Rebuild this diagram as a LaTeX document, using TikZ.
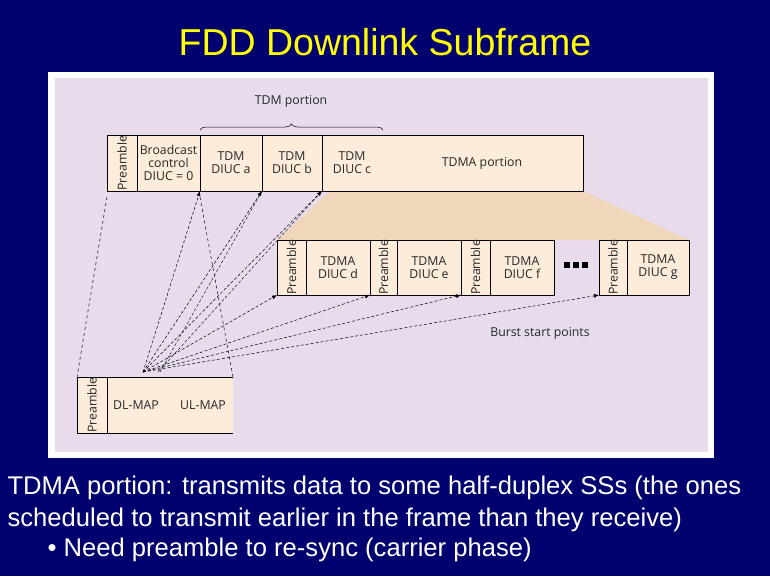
\documentclass[tikz,border=0pt]{standalone}
\usepackage{fontspec}
\setmainfont{Liberation Sans}
\newfontfamily\dfont{Open Sans}
\usetikzlibrary{decorations.pathreplacing,arrows.meta}
\definecolor{navy}{RGB}{0,0,110}
\definecolor{lav}{RGB}{232,220,236}
\definecolor{cell}{RGB}{253,236,218}
\definecolor{fan}{RGB}{240,214,186}
\definecolor{ttl}{RGB}{255,255,0}
\tikzset{
 cellbox/.style={draw=black,line width=0.6pt,fill=cell},
 lbl/.style={font=\dfont\fontsize{12.3}{13}\selectfont,text=black!85,align=center},
 vlbl/.style={lbl,rotate=90},
 ptr/.style={densely dashed,line width=0.5pt,-{Latex[length=5pt,width=4pt]}},
 dline/.style={dashed,line width=0.5pt},
 body/.style={font=\fontsize{25.6}{28}\selectfont,text=white,anchor=west}
}
\begin{document}
\begin{tikzpicture}[x=1pt,y=-1pt]
\useasboundingbox (0,0) rectangle (770,576);
\fill[navy] (0,0) rectangle (770,576);
\node[font=\fontsize{37.5}{40}\selectfont,text=ttl] (title) at (385,42) {FDD Downlink Subframe};
\fill[white] (48,72) rectangle (714,458);
\fill[lav] (55,78) rectangle (708,452);
% fan
\fill[fan] (330,191) -- (583,191) -- (689,240) -- (277,240) -- cycle;
% top row
\draw[cellbox] (107,135) rectangle (583,191);
\foreach \x in {137,200,262,322} \draw (\x,135) -- (\x,191);
\node[vlbl] (p0) at (122,163) {Preamble};
\node[lbl] (bc) at (168.5,163) {Broadcast\\control\\DIUC = 0};
\node[lbl] (ta) at (231,163) {TDM\\DIUC a};
\node[lbl] (tb) at (292,163) {TDM\\DIUC b};
\node[lbl] (tc) at (352,163) {TDM\\DIUC c};
\node[lbl] (tdma) at (482,163) {TDMA portion};
\draw[decorate,decoration={brace,amplitude=6pt},line width=0.5pt] (200,130) -- (383,130);
\node[lbl] (tdm) at (291,101) {TDM portion};
% second row
\draw[cellbox] (277,240) rectangle (554,295);
\draw[cellbox] (599,240) rectangle (689,295);
\foreach \x in {306,370,397,461,490,627} \draw (\x,240) -- (\x,295);
\node[vlbl] (p1) at (291.5,267.5) {Preamble};
\node[lbl] (dd) at (338,267.5) {TDMA\\DIUC d};
\node[vlbl] (p2) at (383.5,267.5) {Preamble};
\node[lbl] (de) at (429,267.5) {TDMA\\DIUC e};
\node[vlbl] (p3) at (475.5,267.5) {Preamble};
\node[lbl] (df) at (522,267.5) {TDMA\\DIUC f};
\foreach \x in {564,573,582} \fill[black] (\x,262) rectangle +(6,6);
\node[vlbl] (p4) at (613,267.5) {Preamble};
\node[lbl] (dg) at (658,267.5) {TDMA\\DIUC g};
\node[lbl] (bsp) at (540,333) {Burst start points};
% bottom box
\fill[cell] (77,377) rectangle (233,433);
\draw[line width=0.6pt] (233,377) -- (77,377) -- (77,433) -- (233,433);
\draw (107,377) -- (107,433);
\node[vlbl] (p5) at (92,405) {Preamble};
\node[lbl] (dl) at (136,405) {DL-MAP};
\node[lbl] (ul) at (203,405) {UL-MAP};
% connectors
\coordinate (src) at (143,372);
\coordinate (c1) at (200,191);
\coordinate (c2) at (262,191);
\coordinate (c3) at (322,191);
\coordinate (c4) at (277,295);
\coordinate (c5) at (370,295);
\coordinate (c6) at (461,295);
\coordinate (c7) at (599,295);
\foreach \c in {c1,c2,c3,c4,c5,c6,c7} \draw[ptr] (src) -- (\c);
\draw[densely dashed,line width=0.4pt] (160,372) -- (c2);
\draw[densely dashed,line width=0.4pt] (158,372) -- (c3);
\draw[dline] (107,197) -- (77,377);
\draw[dline] (200,197) -- (233,377);
% body text
\node[body] (t1) at (4,488) {TDMA portion: transmits data to some half-duplex SSs (the ones};
\node[body] (t2) at (4,520) {scheduled to transmit earlier in the frame than they receive)};
\node[body] (t3) at (44,550) {\textbullet\ Need preamble to re-sync (carrier phase)};
\end{tikzpicture}
\end{document}
